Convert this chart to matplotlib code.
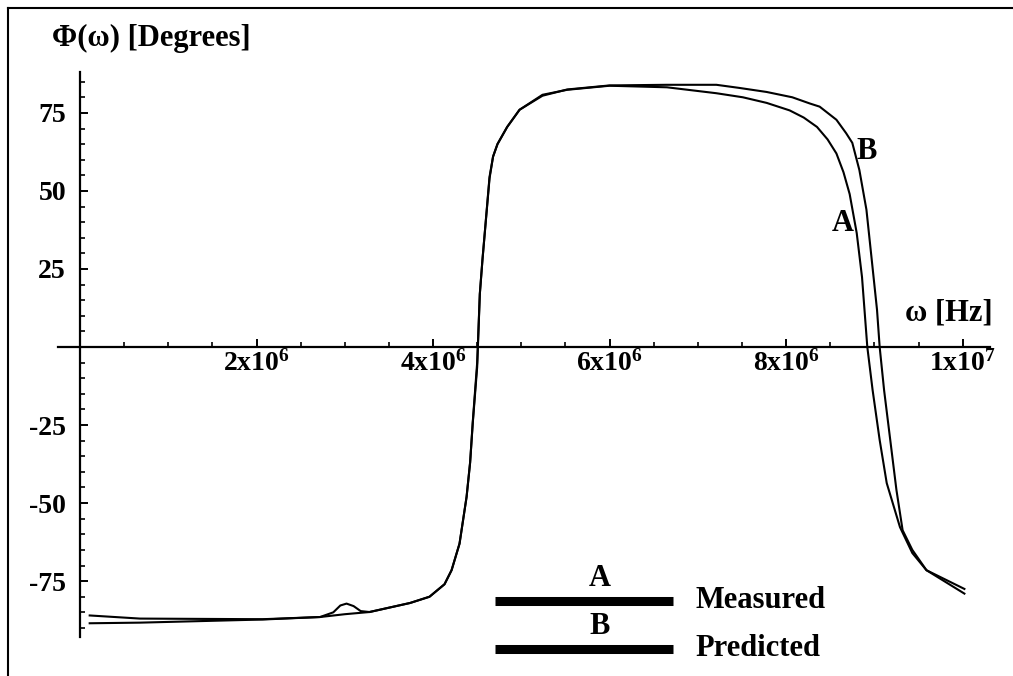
import matplotlib
matplotlib.use('Agg')
import matplotlib.pyplot as plt
from matplotlib.lines import Line2D
from matplotlib.ticker import FixedLocator

plt.rcParams['font.family'] = ['Liberation Serif', 'DejaVu Serif']
plt.rcParams['font.weight'] = 'bold'
plt.rcParams['mathtext.fontset'] = 'custom'
plt.rcParams['mathtext.bf'] = 'Liberation Serif:bold'
plt.rcParams['mathtext.rm'] = 'Liberation Serif:bold'
plt.rcParams['mathtext.default'] = 'bf'
plt.rcParams['axes.unicode_minus'] = False

# frequency in MHz, phase in degrees
freq_a = [0.11, 0.68, 2.07, 2.72, 2.87, 2.95, 3.02, 3.10, 3.18, 3.28, 3.74, 3.96, 4.13,
          4.21, 4.30, 4.38, 4.42, 4.45, 4.50, 4.53, 4.56, 4.64, 4.68, 4.73, 4.84, 4.98,
          5.24, 5.52, 6.00, 6.65, 7.21, 7.51, 7.78, 8.04, 8.20, 8.35, 8.47, 8.57, 8.65,
          8.72, 8.80, 8.86, 8.92, 8.98, 9.06, 9.14, 9.29, 9.43, 9.59, 10.02]
phase_a = [-86.0, -87.0, -87.2, -86.5, -85.0, -82.8, -82.2, -83.0, -84.6, -84.9, -82.0,
           -80.0, -76.0, -71.5, -63.0, -48.0, -37.0, -24.4, -6.4, 17.0, 28.0, 54.5, 61.0,
           65.0, 70.5, 76.0, 80.8, 82.4, 83.7, 83.2, 81.3, 80.0, 78.2, 75.8, 73.5, 70.5,
           66.5, 62.0, 56.0, 49.0, 36.5, 22.4, 0.0, -13.8, -29.8, -43.6, -57.7, -66.0,
           -71.5, -77.5]

freq_b = [0.11, 0.68, 2.07, 2.72, 3.00, 3.28, 3.74, 3.96, 4.13, 4.21, 4.30, 4.38, 4.42,
          4.45, 4.50, 4.53, 4.56, 4.64, 4.68, 4.73, 4.84, 4.98, 5.24, 5.52, 6.00, 6.65,
          7.21, 7.47, 7.78, 8.07, 8.27, 8.38, 8.57, 8.68, 8.75, 8.83, 8.91, 8.97, 9.03,
          9.06, 9.11, 9.18, 9.25, 9.32, 9.43, 9.59, 10.02]
phase_b = [-88.5, -88.3, -87.3, -86.5, -85.6, -84.9, -82.0, -80.0, -76.0, -71.5, -63.0,
           -48.0, -37.0, -24.0, -5.0, 17.0, 28.0, 54.0, 61.0, 65.0, 70.5, 76.0, 80.5, 82.5,
           83.8, 84.0, 84.0, 83.0, 81.7, 80.0, 78.0, 77.0, 72.8, 68.5, 65.4, 56.7, 44.0,
           28.0, 11.9, 0.0, -13.8, -29.8, -45.8, -58.7, -65.0, -71.5, -79.0]

x_major = [2e6, 4e6, 6e6, 8e6, 1e7]
x_labels = ['2x10$^{6}$', '4x10$^{6}$', '6x10$^{6}$', '8x10$^{6}$', '1x10$^{7}$']
y_major = [-75, -50, -25, 25, 50, 75]
x_minor = [k * 0.5e6 for k in range(1, 21)]
y_minor = [v for v in range(-90, 90, 5) if v != 0]

W, H = 1013, 676
fig = plt.figure(figsize=(W / 100, H / 100), dpi=100)
ax = fig.add_axes([58 / W, (H - 637) / H, (990 - 58) / W, (637 - 72) / H])

ax.plot([f * 1e6 for f in freq_a], phase_a, color='black', lw=1.5, solid_joinstyle='round')
ax.plot([f * 1e6 for f in freq_b], phase_b, color='black', lw=1.5, solid_joinstyle='round')

ax.set_xlim(-0.249e6, 10.31e6)
ax.set_ylim(-92.9, 88.1)

for s in ['top', 'right']:
    ax.spines[s].set_visible(False)
ax.spines['left'].set_position(('data', 0))
ax.spines['bottom'].set_position(('data', 0))
ax.spines['left'].set_linewidth(1.6)
ax.spines['bottom'].set_linewidth(1.6)

ax.xaxis.set_major_locator(FixedLocator(x_major))
ax.xaxis.set_minor_locator(FixedLocator(x_minor))
ax.yaxis.set_major_locator(FixedLocator(y_major))
ax.yaxis.set_minor_locator(FixedLocator(y_minor))
ax.set_xticklabels(x_labels)
ax.tick_params(axis='both', which='major', direction='in', length=6, width=1.4,
               labelsize=20, pad=2)
ax.tick_params(axis='both', which='minor', direction='in', length=3.5, width=1.2)
ax.tick_params(axis='y', which='major', pad=10)
for lab in ax.get_xticklabels() + ax.get_yticklabels():
    lab.set_fontweight('bold')

ax.text(8.64e6, 39.7, 'A', fontsize=22, fontweight='bold', ha='center', va='center')
ax.text(8.91e6, 62.5, 'B', fontsize=22, fontweight='bold', ha='center', va='center')

fig.text(993 / W, 1 - 313 / H, 'ω [Hz]', fontsize=22, fontweight='bold',
         ha='right', va='center')
fig.text(52 / W, 1 - 38 / H, 'Φ(ω) [Degrees]', fontsize=22, fontweight='bold',
         ha='left', va='center')

# legend drawn by hand, as in the original figure
for y_px, tag, name in [(601, 'A', 'Measured'), (649, 'B', 'Predicted')]:
    fig.add_artist(Line2D([495 / W, 673 / W], [1 - y_px / H, 1 - y_px / H],
                          transform=fig.transFigure, color='black', lw=6.5,
                          solid_capstyle='butt'))
    fig.text(600 / W, 1 - (y_px - 23) / H, tag, fontsize=22, fontweight='bold',
             ha='center', va='center')
    fig.text(695 / W, 1 - y_px / H, name, fontsize=22, fontweight='bold',
             ha='left', va='center')

# scan frame
fig.add_artist(Line2D([8 / W, 8 / W], [0, 1 - 8 / H], transform=fig.transFigure,
                      color='black', lw=1.5))
fig.add_artist(Line2D([8 / W, 1], [1 - 8 / H, 1 - 8 / H], transform=fig.transFigure,
                      color='black', lw=1.5))

fig.savefig('out.png', dpi=100)
